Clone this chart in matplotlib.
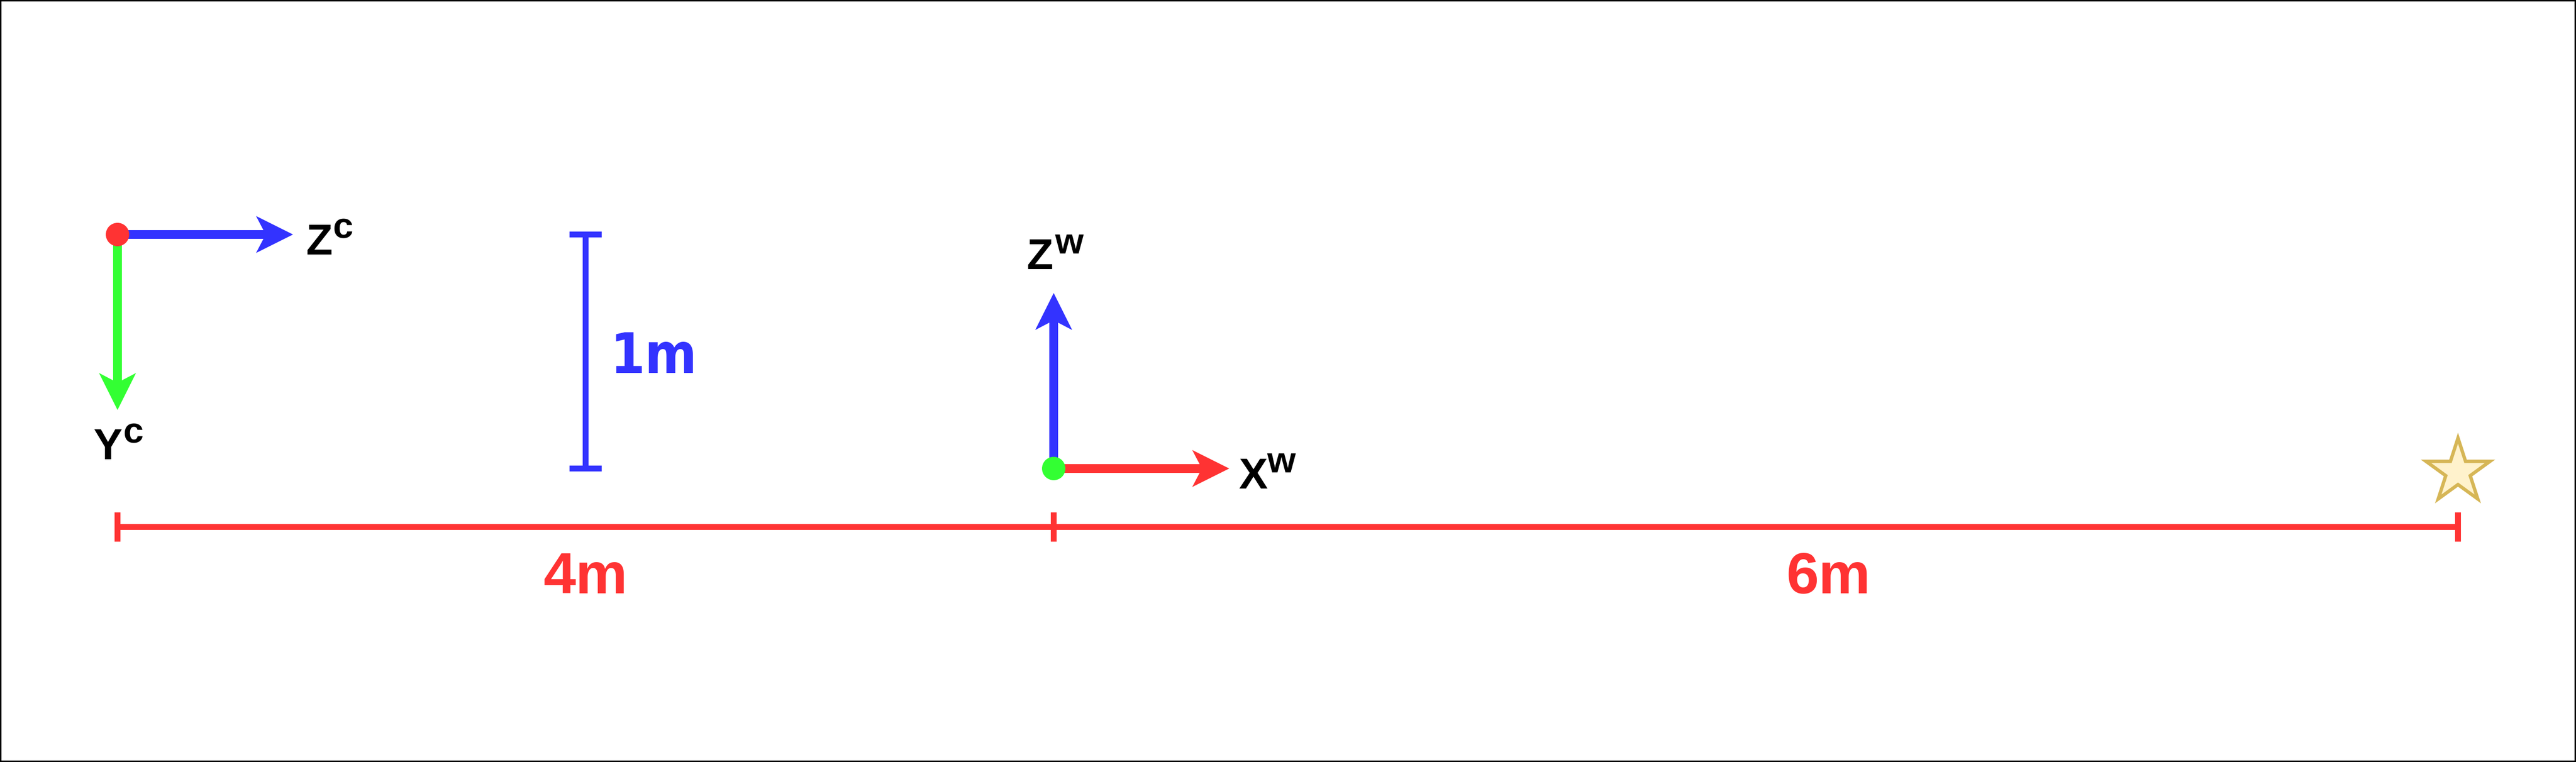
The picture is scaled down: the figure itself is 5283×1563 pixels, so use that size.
import matplotlib
matplotlib.use("Agg")
import matplotlib.pyplot as plt
import numpy as np
from matplotlib.patches import Circle, Polygon

# ---------------- data ----------------
segment_labels = ["4m", "6m"]          # horizontal distances
segment_lengths = [4, 6]               # metres: camera -> world origin -> target
height_label = "1m"
height_length = 1                      # camera height above world origin (m)
axis_length = 0.75                     # length of drawn frame axes (m)
ground_offset = -0.25                  # dimension line below ground (m)
camera_axes = ["Z", "Y"]               # camera frame axes (right, down)
camera_sup = "c"
world_axes = ["Z", "X"]                # world frame axes (up, right)
world_sup = "w"

# ---------------- layout ----------------
W, H, DPI = 5283, 1563, 100
PX_PER_M = 480.0
ORIGIN_PX = (2161, 961)
PX = 1.0 / PX_PER_M          # metres per pixel
PT = 72.0 / DPI              # points per pixel

RED = "#FF3333"
BLUE = "#3333FF"
GREEN = "#33FF33"
STAR_FACE = "#FFF2CC"
STAR_EDGE = "#D6B656"

fig = plt.figure(figsize=(W / DPI, H / DPI), dpi=DPI)
ax = fig.add_axes([0, 0, 1, 1])
ax.set_xlim(-ORIGIN_PX[0] / PX_PER_M, (W - ORIGIN_PX[0]) / PX_PER_M)
ax.set_ylim((ORIGIN_PX[1] - H) / PX_PER_M, ORIGIN_PX[1] / PX_PER_M)
ax.set_xticks([])
ax.set_yticks([])
for sp in ax.spines.values():
    sp.set_linewidth(6 * PT)
    sp.set_color("black")

cam_x = -segment_lengths[0]
cam_z = height_length
target_x = segment_lengths[1]

LETTER_FS = 64
SUP_FS = 54
lab_font = dict(family=["Liberation Sans", "DejaVu Sans"], weight="bold")


def draw_arrow(x0, y0, dx, dy, color):
    ax.arrow(x0, y0, dx, dy, width=18 * PX, head_width=76 * PX,
             head_length=76 * PX, overhang=0.2, length_includes_head=True,
             color=color, lw=0, zorder=3)


def axis_label(x, y, letter, sup, dl, ds):
    ax.text(x + dl[0], y + dl[1], letter, fontsize=LETTER_FS, ha="left",
            va="baseline", color="black", zorder=5, **lab_font)
    ax.text(x + ds[0], y + ds[1], sup, fontsize=SUP_FS, ha="left",
            va="baseline", color="black", zorder=5, **lab_font)


# ---- camera frame ----
draw_arrow(cam_x, cam_z, axis_length, 0, BLUE)       # Z^c to the right
draw_arrow(cam_x, cam_z, 0, -axis_length, GREEN)     # Y^c downward
ax.add_patch(Circle((cam_x, cam_z), 24 * PX, color=RED, lw=0, zorder=4))
axis_label(cam_x, cam_z, camera_axes[0], camera_sup, (0.805, -0.085), (0.92, -0.015))
axis_label(cam_x, cam_z, camera_axes[1], camera_sup, (-0.104, -0.960), (0.023, -0.890))

# ---- world frame ----
draw_arrow(0, 0, 0, axis_length, BLUE)               # Z^w upward
draw_arrow(0, 0, axis_length, 0, RED)                # X^w to the right
ax.add_patch(Circle((0, 0), 24 * PX, color=GREEN, lw=0, zorder=4))
axis_label(0, 0, world_axes[0], world_sup, (-0.115, 0.853), (0.004, 0.919))
axis_label(0, 0, world_axes[1], world_sup, (0.79, -0.085), (0.91, -0.017))

# ---- 1 m height bar ----
bar_x = cam_x / 2
ax.plot([bar_x, bar_x], [0, height_length], color=BLUE, lw=12 * PT,
        solid_capstyle="butt", zorder=2)
ax.hlines([0, height_length], bar_x - 33 * PX, bar_x + 33 * PX, color=BLUE,
          lw=12 * PT, zorder=2)
ax.text(bar_x + 0.105, 0.408, height_label, fontsize=82, ha="left",
        va="baseline", color=BLUE, family="DejaVu Sans", weight="bold",
        fontstretch="condensed")

# ---- ground dimension line ----
ticks = [cam_x, 0, target_x]
ax.plot([cam_x, target_x], [ground_offset, ground_offset], color=RED,
        lw=12 * PT, solid_capstyle="butt", zorder=2)
ax.vlines(ticks, ground_offset - 30 * PX, ground_offset + 30 * PX, color=RED,
          lw=12 * PT, zorder=2)
label_x = [cam_x / 2, 3.31]
for lx, lab in zip(label_x, segment_labels):
    ax.text(lx, -0.533, lab, fontsize=86, ha="center", va="baseline",
            color=RED, **lab_font)

# ---- target star ----
R = 69 * PX
r = R * 0.382
cy = 0 - 0.0955 * R
ang = np.deg2rad(90 + 36 * np.arange(10))
rad = np.where(np.arange(10) % 2 == 0, R, r)
verts = np.column_stack([target_x + rad * np.cos(ang), cy + rad * np.sin(ang)])
ax.add_patch(Polygon(verts, closed=True, facecolor=STAR_FACE,
                     edgecolor=STAR_EDGE, lw=7 * PT, joinstyle="miter", zorder=3))

fig.savefig("out.png", dpi=DPI)
